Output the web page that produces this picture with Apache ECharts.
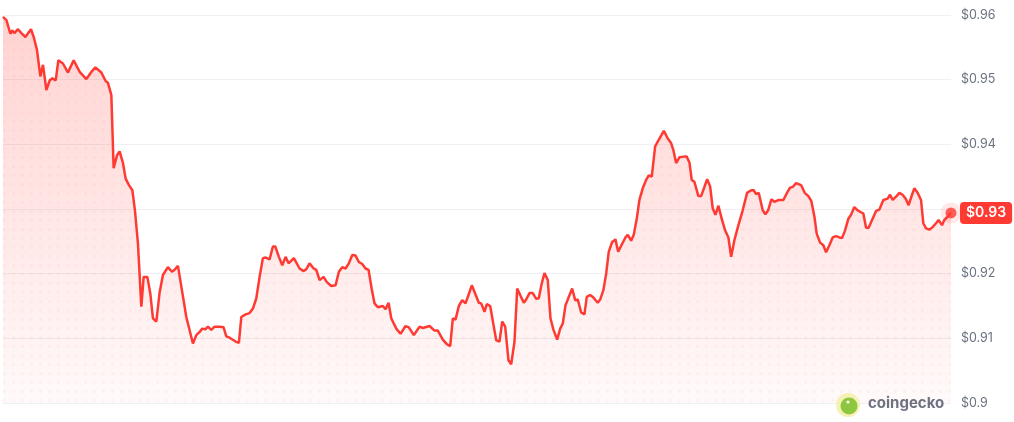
<!DOCTYPE html>
<html>
<head>
<meta charset="utf-8">
<script src="https://cdn.jsdelivr.net/npm/echarts@6/dist/echarts.min.js"></script>
<style>
  html, body { margin: 0; padding: 0; background: #fff; }
  #chart { width: 1014px; height: 422px; }
</style>
</head>
<body>
<div id="chart"></div>
<script>
// hours since start of the 24h window
const timeHours = [
  0, 0.086, 0.187, 0.238, 0.288, 0.380, 0.466, 0.567, 0.709, 0.777,
  0.860, 0.946, 1.012, 1.098, 1.182, 1.250, 1.334, 1.402, 1.518, 1.645,
  1.789, 1.941, 2.110, 2.237, 2.338, 2.490, 2.599, 2.657, 2.743, 2.801,
  2.885, 2.953, 3.037, 3.105, 3.189, 3.275, 3.340, 3.416, 3.502, 3.561,
  3.654, 3.730, 3.796, 3.882, 3.965, 4.049, 4.175, 4.277, 4.345, 4.429,
  4.515, 4.641, 4.808, 4.894, 4.978, 5.046, 5.122, 5.188, 5.274, 5.357,
  5.484, 5.585, 5.653, 5.737, 5.889, 5.972, 6.033, 6.142, 6.243, 6.327,
  6.413, 6.496, 6.580, 6.648, 6.749, 6.833, 6.893, 6.984, 7.070, 7.154,
  7.230, 7.364, 7.508, 7.610, 7.678, 7.761, 7.863, 7.931, 8.015, 8.116,
  8.199, 8.311, 8.419, 8.503, 8.589, 8.672, 8.756, 8.842, 8.926, 9.009,
  9.095, 9.178, 9.254, 9.338, 9.406, 9.490, 9.616, 9.685, 9.761, 9.829,
  9.956, 10.064, 10.191, 10.274, 10.401, 10.545, 10.629, 10.798, 10.925, 11.008,
  11.135, 11.236, 11.322, 11.388, 11.456, 11.540, 11.626, 11.709, 11.785, 11.869,
  11.955, 12.046, 12.106, 12.190, 12.248, 12.334, 12.486, 12.570, 12.638, 12.714,
  12.797, 12.866, 12.949, 13.018, 13.093, 13.184, 13.245, 13.329, 13.412, 13.498,
  13.564, 13.640, 13.708, 13.792, 13.860, 13.936, 14.030, 14.106, 14.172, 14.240,
  14.323, 14.409, 14.485, 14.551, 14.637, 14.720, 14.779, 14.865, 14.948, 15.057,
  15.118, 15.201, 15.270, 15.336, 15.422, 15.505, 15.574, 15.657, 15.758, 15.817,
  15.903, 15.968, 16.044, 16.112, 16.196, 16.282, 16.348, 16.424, 16.510, 16.619,
  16.730, 16.829, 16.914, 16.972, 17.041, 17.124, 17.251, 17.309, 17.378, 17.436,
  17.504, 17.605, 17.674, 17.757, 17.826, 17.902, 17.968, 18.036, 18.112, 18.195,
  18.281, 18.365, 18.434, 18.517, 18.618, 18.727, 18.838, 18.939, 19.005, 19.066,
  19.132, 19.233, 19.301, 19.370, 19.453, 19.529, 19.638, 19.757, 19.840, 19.926,
  19.992, 20.078, 20.204, 20.296, 20.389, 20.465, 20.543, 20.600, 20.686, 20.769,
  20.838, 20.921, 21.004, 21.090, 21.175, 21.242, 21.318, 21.402, 21.470, 21.553,
  21.637, 21.723, 21.781, 21.850, 21.915, 22.016, 22.102, 22.186, 22.287, 22.396,
  22.456, 22.524, 22.608, 22.692, 22.775, 22.861, 22.927, 23.013, 23.071, 23.155,
  23.241, 23.299, 23.368, 23.451, 23.534, 23.620, 23.686, 23.772, 23.831, 23.914,
  24.000
];

// USD price at each time
const prices = [
  0.9597, 0.9592, 0.9571, 0.9576, 0.9572, 0.9578, 0.9572, 0.9566, 0.9578, 0.9566,
  0.9546, 0.9505, 0.9523, 0.9484, 0.9499, 0.9502, 0.9499, 0.9530, 0.9525, 0.9511,
  0.9530, 0.9512, 0.9501, 0.9512, 0.9519, 0.9511, 0.9498, 0.9495, 0.9476, 0.9363,
  0.9383, 0.9389, 0.9371, 0.9347, 0.9337, 0.9329, 0.9298, 0.9247, 0.9149, 0.9195,
  0.9195, 0.9169, 0.9131, 0.9126, 0.9171, 0.9198, 0.9210, 0.9203, 0.9206, 0.9212,
  0.9180, 0.9133, 0.9092, 0.9105, 0.9110, 0.9115, 0.9114, 0.9118, 0.9113, 0.9118,
  0.9118, 0.9117, 0.9103, 0.9101, 0.9095, 0.9093, 0.9133, 0.9137, 0.9139, 0.9146,
  0.9162, 0.9195, 0.9224, 0.9225, 0.9222, 0.9242, 0.9242, 0.9226, 0.9213, 0.9226,
  0.9216, 0.9224, 0.9208, 0.9204, 0.9207, 0.9216, 0.9208, 0.9206, 0.9190, 0.9195,
  0.9187, 0.9181, 0.9182, 0.9203, 0.9210, 0.9208, 0.9216, 0.9229, 0.9228, 0.9218,
  0.9215, 0.9208, 0.9206, 0.9175, 0.9154, 0.9148, 0.9150, 0.9145, 0.9155, 0.9131,
  0.9115, 0.9107, 0.9119, 0.9117, 0.9105, 0.9118, 0.9116, 0.9119, 0.9112, 0.9112,
  0.9098, 0.9091, 0.9088, 0.9131, 0.9129, 0.9150, 0.9159, 0.9154, 0.9167, 0.9182,
  0.9169, 0.9155, 0.9154, 0.9141, 0.9153, 0.9150, 0.9097, 0.9095, 0.9126, 0.9118,
  0.9066, 0.9060, 0.9095, 0.9177, 0.9167, 0.9155, 0.9160, 0.9170, 0.9170, 0.9161,
  0.9162, 0.9185, 0.9201, 0.9190, 0.9131, 0.9113, 0.9098, 0.9115, 0.9123, 0.9151,
  0.9164, 0.9177, 0.9159, 0.9160, 0.9140, 0.9137, 0.9164, 0.9167, 0.9163, 0.9155,
  0.9160, 0.9175, 0.9200, 0.9234, 0.9249, 0.9253, 0.9234, 0.9244, 0.9256, 0.9260,
  0.9251, 0.9260, 0.9285, 0.9314, 0.9332, 0.9345, 0.9352, 0.9350, 0.9397, 0.9409,
  0.9421, 0.9409, 0.9402, 0.9391, 0.9371, 0.9380, 0.9381, 0.9381, 0.9372, 0.9345,
  0.9342, 0.9320, 0.9320, 0.9334, 0.9346, 0.9335, 0.9301, 0.9291, 0.9305, 0.9285,
  0.9267, 0.9256, 0.9226, 0.9252, 0.9275, 0.9298, 0.9325, 0.9329, 0.9329, 0.9323,
  0.9325, 0.9298, 0.9292, 0.9298, 0.9315, 0.9311, 0.9314, 0.9314, 0.9324, 0.9333,
  0.9334, 0.9340, 0.9337, 0.9325, 0.9320, 0.9312, 0.9288, 0.9262, 0.9248, 0.9244,
  0.9233, 0.9244, 0.9256, 0.9258, 0.9256, 0.9255, 0.9267, 0.9285, 0.9291, 0.9303,
  0.9298, 0.9295, 0.9293, 0.9271, 0.9271, 0.9285, 0.9297, 0.9299, 0.9314, 0.9316,
  0.9322, 0.9314, 0.9319, 0.9325, 0.9322, 0.9315, 0.9306, 0.9322, 0.9332, 0.9325,
  0.9314, 0.9278, 0.9270, 0.9268, 0.9272, 0.9278, 0.9283, 0.9275, 0.9283, 0.9288,
  0.9294
];

const yMin = 0.9;
const yMax = 0.96;
const yStep = 0.01;

const RED = "#ff3a33";

const chart = echarts.init(document.getElementById("chart"));

const seriesData = timeHours.map((t, i) => [t, prices[i]]);
const lastPoint = seriesData[seriesData.length - 1];
const lastPrice = prices[prices.length - 1];

// small dot tile used as the texture under the line
function makeDotPattern() {
  const c = document.createElement("canvas");
  c.width = 9;
  c.height = 9;
  const ctx = c.getContext("2d");
  ctx.fillStyle = "rgba(255,58,51,0.07)";
  ctx.beginPath();
  ctx.arc(4.5, 4.5, 1.4, 0, Math.PI * 2);
  ctx.fill();
  return c;
}

chart.setOption({
  animation: false,
  grid: { left: 3, right: 63, top: 15, bottom: 19 },
  xAxis: {
    type: "value",
    min: timeHours[0],
    max: timeHours[timeHours.length - 1],
    show: false
  },
  yAxis: {
    type: "value",
    position: "right",
    min: yMin,
    max: yMax,
    interval: yStep,
    axisLine: { show: false },
    axisTick: { show: false },
    axisLabel: {
      margin: 10,
      color: "#6b7280",
      fontFamily: "Inter",
      fontSize: 12.5,
      formatter: (v) => "$" + Number(v.toFixed(2))
    },
    splitLine: { lineStyle: { color: "#eef0f3", width: 1 } }
  },
  series: [
    {
      type: "line",
      data: seriesData,
      showSymbol: false,
      lineStyle: { width: 0 },
      areaStyle: {
        color: new echarts.graphic.LinearGradient(0, 0, 0, 1, [
          { offset: 0, color: "rgba(255,58,51,0.32)" },
          { offset: 1, color: "rgba(255,58,51,0.04)" }
        ])
      },
      silent: true,
      z: 2
    },
    {
      type: "line",
      data: seriesData,
      showSymbol: false,
      lineStyle: { color: RED, width: 2.5 },
      areaStyle: {
        color: { image: makeDotPattern(), repeat: "repeat" }
      },
      endLabel: {
        show: true,
        distance: 9,
        formatter: () => "$" + lastPrice.toFixed(2),
        backgroundColor: RED,
        color: "#fff",
        fontFamily: "Inter",
        fontSize: 14,
        fontWeight: 600,
        padding: [4, 6, 4, 6],
        borderRadius: 4
      },
      z: 3
    },
    {
      type: "scatter",
      data: [lastPoint],
      symbolSize: 21,
      itemStyle: { color: "rgba(255,58,51,0.15)" },
      silent: true,
      z: 4
    },
    {
      type: "scatter",
      data: [lastPoint],
      symbolSize: 11,
      itemStyle: { color: RED },
      silent: true,
      z: 5
    }
  ],
  graphic: [
    {
      type: "circle",
      shape: { cx: 848, cy: 405, r: 12 },
      style: { fill: "#f6f0b4" },
      z: 10
    },
    {
      type: "circle",
      shape: { cx: 849, cy: 406, r: 8.5 },
      style: { fill: "#8dc63f" },
      z: 11
    },
    {
      type: "circle",
      shape: { cx: 848, cy: 402, r: 1.6 },
      style: { fill: "#ffffff" },
      z: 12
    },
    {
      type: "text",
      left: 868,
      top: 396,
      style: {
        text: "coingecko",
        fill: "#6e7280",
        font: "bold 15px Inter"
      },
      z: 10
    }
  ]
});

window.addEventListener("resize", () => chart.resize());
</script>
</body>
</html>
